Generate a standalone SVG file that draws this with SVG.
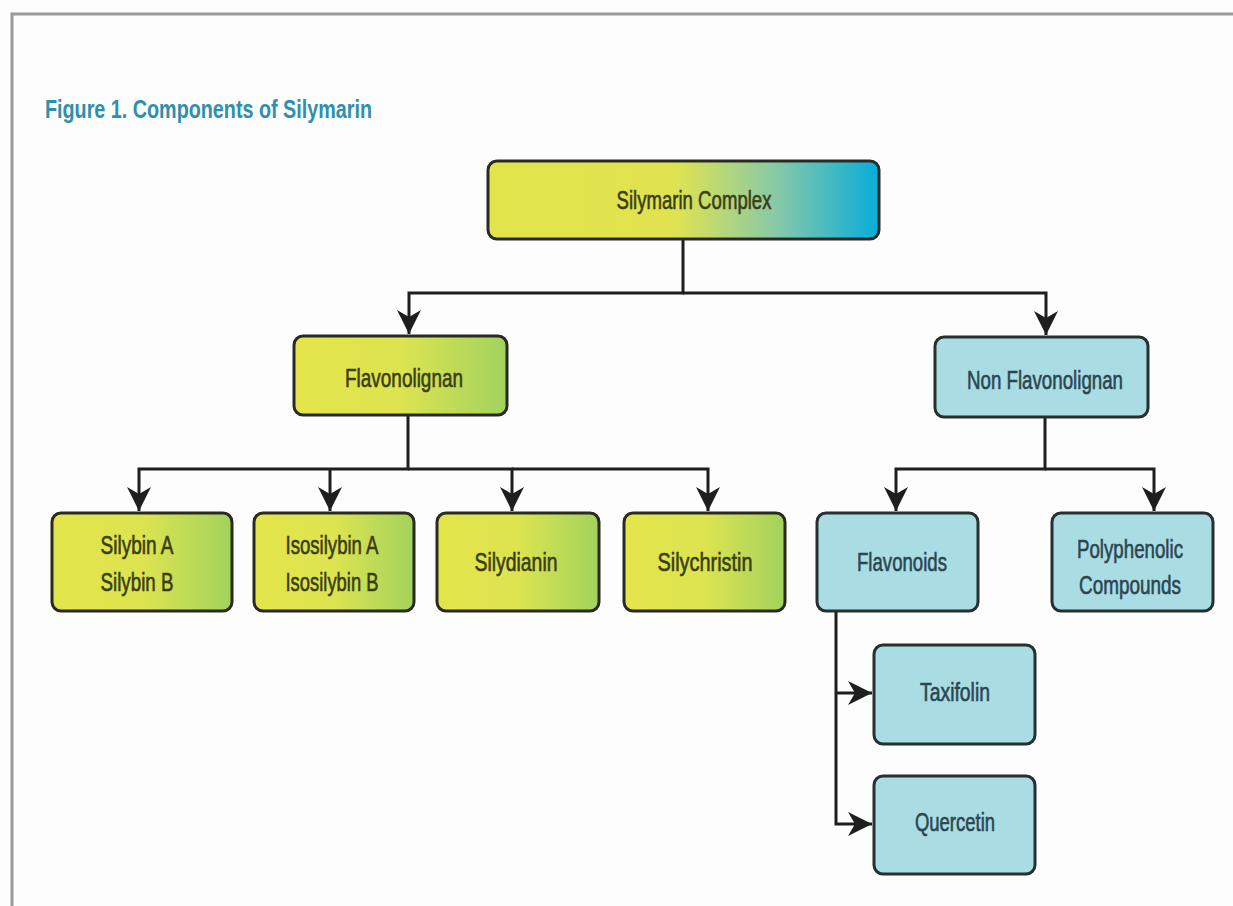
<svg xmlns="http://www.w3.org/2000/svg" width="1233" height="906" viewBox="0 0 1233 906">
<defs>
<linearGradient id="gGreen" x1="0" y1="0" x2="1" y2="0">
<stop offset="0" stop-color="#e3e54a"/>
<stop offset="0.5" stop-color="#dde450"/>
<stop offset="1" stop-color="#a2d25d"/>
</linearGradient>
<linearGradient id="gTop" x1="0" y1="0" x2="1" y2="0">
<stop offset="0" stop-color="#e2e44b"/>
<stop offset="0.48" stop-color="#e0e350"/>
<stop offset="0.74" stop-color="#86c9a8"/>
<stop offset="1" stop-color="#08add9"/>
</linearGradient>
<marker id="arr" markerUnits="userSpaceOnUse" viewBox="-26 -14 28 28" markerWidth="28" markerHeight="28" refX="0" refY="0" orient="auto">
<path d="M0,0 L-24,-12 L-17,0 L-24,12 Z" fill="#1e1e1e"/>
</marker>
</defs>
<style>
.g rect{fill:url(#gGreen);stroke:#2a2a24;stroke-width:3}
.b rect{fill:#a9dce3;stroke:#26302f;stroke-width:3}
.top rect{fill:url(#gTop);stroke:#2a2a24;stroke-width:3}
text{font-family:"Liberation Sans",Arial,sans-serif;font-size:26px;text-anchor:middle;stroke-width:0.6}
.g text,.top text{fill:#3a3d12;stroke:#3a3d12}
.b text{fill:#2a4650;stroke:#2a4650}
.c path{fill:none;stroke:#1e1e1e;stroke-width:3}
</style>
<rect x="0" y="0" width="1233" height="906" fill="#fdfdfd"/>
<path d="M12,906 V14 H1233" fill="none" stroke="#9a9a9a" stroke-width="3"/>
<text x="45" y="118" style="font-weight:bold;font-size:25px;text-anchor:start;fill:#2e8fae;stroke:none" textLength="327" lengthAdjust="spacingAndGlyphs">Figure 1. Components of Silymarin</text>
<g class="c" id="connectors">
<path d="M683,240 V293 H409 V334" marker-end="url(#arr)"/>
<path d="M683,293 H1046 V335" marker-end="url(#arr)"/>
<path d="M408,416 V469 H139 V511" marker-end="url(#arr)"/>
<path d="M330,469 V511" marker-end="url(#arr)"/>
<path d="M408,469 H512 V511" marker-end="url(#arr)"/>
<path d="M512,469 H708 V511" marker-end="url(#arr)"/>
<path d="M1045,418 V469 H896 V511" marker-end="url(#arr)"/>
<path d="M1045,469 H1154 V511" marker-end="url(#arr)"/>
<path d="M836,612 V824 H872" marker-end="url(#arr)"/>
<path d="M836,693 H872" marker-end="url(#arr)"/>
</g>
<g class="top" id="silymarin"><rect x="488" y="161" width="391" height="78" rx="9"/><text x="694" y="209" textLength="155" lengthAdjust="spacingAndGlyphs">Silymarin Complex</text></g>
<g class="g" id="flavonolignan"><rect x="294" y="336" width="213" height="79" rx="9"/><text x="404" y="387" textLength="118" lengthAdjust="spacingAndGlyphs">Flavonolignan</text></g>
<g class="b" id="nonflavonolignan"><rect x="935" y="337" width="213" height="80" rx="9"/><text x="1045" y="389" textLength="156" lengthAdjust="spacingAndGlyphs">Non Flavonolignan</text></g>
<g class="g" id="silybin"><rect x="52" y="513" width="180" height="98" rx="9"/><text x="137" y="554" textLength="73" lengthAdjust="spacingAndGlyphs">Silybin A</text><text x="137" y="591" textLength="73" lengthAdjust="spacingAndGlyphs">Silybin B</text></g>
<g class="g" id="isosilybin"><rect x="254" y="513" width="160" height="98" rx="9"/><text x="332" y="554" textLength="93" lengthAdjust="spacingAndGlyphs">Isosilybin A</text><text x="332" y="591" textLength="93" lengthAdjust="spacingAndGlyphs">Isosilybin B</text></g>
<g class="g" id="silydianin"><rect x="437" y="513" width="162" height="98" rx="9"/><text x="516" y="571" textLength="83" lengthAdjust="spacingAndGlyphs">Silydianin</text></g>
<g class="g" id="silychristin"><rect x="624" y="513" width="161" height="98" rx="9"/><text x="705" y="571" textLength="95" lengthAdjust="spacingAndGlyphs">Silychristin</text></g>
<g class="b" id="flavonoids"><rect x="817" y="513" width="161" height="98" rx="9"/><text x="902" y="571" textLength="90" lengthAdjust="spacingAndGlyphs">Flavonoids</text></g>
<g class="b" id="polyphenolic"><rect x="1052" y="513" width="161" height="98" rx="9"/><text x="1130" y="558" textLength="106" lengthAdjust="spacingAndGlyphs">Polyphenolic</text><text x="1130" y="594" textLength="102" lengthAdjust="spacingAndGlyphs">Compounds</text></g>
<g class="b" id="taxifolin"><rect x="874" y="645" width="161" height="99" rx="9"/><text x="955" y="701" textLength="70" lengthAdjust="spacingAndGlyphs">Taxifolin</text></g>
<g class="b" id="quercetin"><rect x="874" y="776" width="161" height="98" rx="9"/><text x="955" y="831" textLength="80" lengthAdjust="spacingAndGlyphs">Quercetin</text></g>
</svg>
